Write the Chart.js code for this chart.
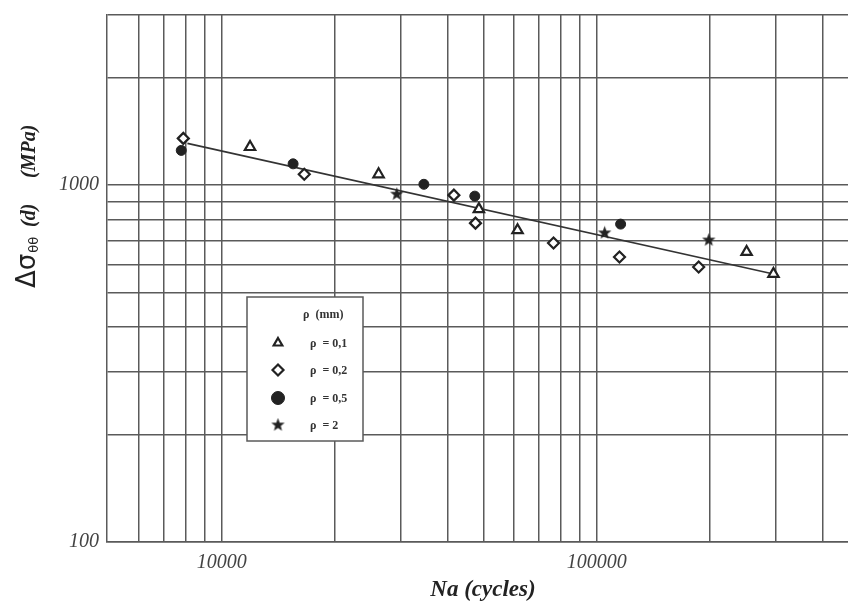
<!DOCTYPE html>
<html>
<head>
<meta charset="utf-8">
<script src="https://cdn.jsdelivr.net/npm/chart.js@4/dist/chart.umd.min.js"></script>
<style>
  html, body { margin: 0; padding: 0; background: #fff; overflow: hidden; width: 848px; height: 603px; }
  #wrap { position: relative; width: 894px; height: 603px; }
  canvas { display: block; }
</style>
</head>
<body>
<div id="wrap"><canvas id="c" width="894" height="603"></canvas></div>
<script>
// Crack-initiation life Na (cycles) vs. local stress range Δσθθ(d) (MPa), by notch radius ρ
const rho01N = [11900, 26200, 48500, 61500, 251000, 296000];
const rho01S = [1280, 1073, 857, 748, 650, 564];

const rho02N = [7900, 16600, 41600, 47500, 76700, 115000, 187000];
const rho02S = [1353, 1073, 938, 783, 689, 629, 590];

const rho05N = [7800, 15500, 34600, 47300, 115800];
const rho05S = [1252, 1148, 1006, 932, 778];

const rho2N = [29300, 105000, 199000];
const rho2S = [944, 735, 702];

// fitted trend line end points
const fitN = [8100, 296000];
const fitS = [1310, 564];

const legendTitle = 'ρ  (mm)';
const seriesLabels = ['ρ  = 0,1', 'ρ  = 0,2', 'ρ  = 0,5', 'ρ  = 2'];

// grid lines (the left frame edge stands for 5000) and labelled ticks
const xGrid = [6000, 7000, 8000, 9000, 10000, 20000, 30000, 40000, 50000, 60000, 70000, 80000, 90000, 100000, 200000, 300000, 400000, 500000];
const xLabelled = [10000, 100000];
const yGrid = [100, 200, 300, 400, 500, 600, 700, 800, 900, 1000, 2000, 3000];
const yLabelled = [100, 1000];

const pairs = (xs, ys) => xs.map((x, i) => ({ x: x, y: ys[i] }));

// filled five-point star used as a marker
function makeStar(size, outer, inner) {
  const cv = document.createElement('canvas');
  cv.width = size; cv.height = size;
  const g = cv.getContext('2d');
  const c = size / 2;
  g.beginPath();
  for (let i = 0; i < 10; i++) {
    const r = i % 2 === 0 ? outer : inner;
    const a = -Math.PI / 2 + i * Math.PI / 5;
    const px = c + r * Math.cos(a), py = c + r * Math.sin(a);
    if (i === 0) g.moveTo(px, py); else g.lineTo(px, py);
  }
  g.closePath();
  g.fillStyle = '#222';
  g.fill();
  return cv;
}
const starImg = makeStar(15, 7, 2.9);

const ink = '#222';
const gridColor = '#5a5a5a';

const markerStyles = [
  { pointStyle: 'triangle', pointRadius: 6, pointBorderWidth: 2.2, pointBackgroundColor: '#fff', pointBorderColor: ink },
  { pointStyle: 'rectRot', pointRadius: 5.5, pointBorderWidth: 2.2, pointBackgroundColor: '#fff', pointBorderColor: ink },
  { pointStyle: 'circle', pointRadius: 5, pointBorderWidth: 1, pointBackgroundColor: ink, pointBorderColor: ink },
  { pointStyle: starImg, pointRadius: 7, pointBorderWidth: 0, pointBackgroundColor: ink, pointBorderColor: ink }
];

const datasets = [
  Object.assign({ label: seriesLabels[0], data: pairs(rho01N, rho01S) }, markerStyles[0]),
  Object.assign({ label: seriesLabels[1], data: pairs(rho02N, rho02S) }, markerStyles[1]),
  Object.assign({ label: seriesLabels[2], data: pairs(rho05N, rho05S) }, markerStyles[2]),
  Object.assign({ label: seriesLabels[3], data: pairs(rho2N, rho2S) }, markerStyles[3]),
  {
    label: 'fit', data: pairs(fitN, fitS), showLine: true, pointRadius: 0,
    borderColor: '#333', borderWidth: 1.6, order: 10
  }
];

// boxed legend inside the plot
const boxLegend = {
  id: 'boxLegend',
  afterDatasetsDraw(chart) {
    const ctx = chart.ctx;
    const x0 = 247, y0 = 297, x1 = 363, y1 = 441;
    ctx.save();
    ctx.fillStyle = '#fff';
    ctx.fillRect(x0, y0, x1 - x0, y1 - y0);
    ctx.strokeStyle = gridColor;
    ctx.lineWidth = 1.5;
    ctx.strokeRect(x0, y0, x1 - x0, y1 - y0);
    ctx.fillStyle = '#333';
    ctx.font = "bold 12px 'Liberation Serif'";
    ctx.textBaseline = 'middle';
    ctx.textAlign = 'left';
    ctx.fillText(legendTitle, 303, 315);
    const rows = [343, 370, 398, 425];
    const legendMarkers = [
      { pointStyle: 'triangle', radius: 5, borderWidth: 2.2, fill: '#fff' },
      { pointStyle: 'rectRot', radius: 5.5, borderWidth: 2.2, fill: '#fff' },
      { pointStyle: 'circle', radius: 6.5, borderWidth: 1, fill: ink },
      { pointStyle: starImg, radius: 7, borderWidth: 0, fill: ink }
    ];
    rows.forEach((yy, i) => {
      const m = legendMarkers[i];
      ctx.fillStyle = m.fill;
      ctx.strokeStyle = ink;
      ctx.lineWidth = m.borderWidth;
      Chart.helpers.drawPoint(ctx, { pointStyle: m.pointStyle, radius: m.radius, rotation: 0, borderWidth: m.borderWidth }, 278, yy);
      ctx.fillStyle = '#333';
      ctx.font = "bold 12px 'Liberation Serif'";
      ctx.fillText(seriesLabels[i], 310, yy + 1);
    });
    ctx.restore();
  }
};

// axis titles
const axisTitles = {
  id: 'axisTitles',
  afterDraw(chart) {
    const ctx = chart.ctx;
    ctx.save();
    ctx.fillStyle = '#222';
    ctx.textBaseline = 'alphabetic';
    ctx.textAlign = 'center';
    ctx.font = "bold italic 23px 'Liberation Serif'";
    ctx.fillText('Na (cycles)', 483, 596);

    ctx.translate(35, 0);
    ctx.rotate(-Math.PI / 2);
    ctx.textAlign = 'left';
    ctx.font = "26px 'DejaVu Sans'";
    ctx.fillText('Δσ', -288, 0);
    const w = ctx.measureText('Δσ').width;
    ctx.font = "13px 'DejaVu Sans'";
    ctx.fillText('θθ', -288 + w + 1, 3);
    ctx.font = "bold italic 20px 'Liberation Serif'";
    ctx.fillText('(d)', -227, 0);
    ctx.fillText('(MPa)', -178, 0);
    ctx.restore();
  }
};

const tickFont = { family: "'Liberation Serif'", size: 20, style: 'italic' };

new Chart(document.getElementById('c'), {
  type: 'scatter',
  data: { datasets: datasets },
  options: {
    responsive: false,
    animation: false,
    devicePixelRatio: 1,
    layout: { padding: { top: 15, left: 0, right: 0, bottom: 0 } },
    plugins: { legend: { display: false }, tooltip: { enabled: false } },
    scales: {
      x: {
        type: 'logarithmic',
        min: 4944,
        max: 590000,
        afterBuildTicks: s => { s.ticks = xGrid.map(v => ({ value: v })); },
        afterFit: s => { s.height = 61; s.paddingLeft = 0; s.paddingRight = 0; },
        grid: { color: gridColor, lineWidth: 1.5, drawTicks: false },
        border: { color: gridColor, width: 1.5 },
        ticks: {
          autoSkip: false, maxRotation: 0, padding: 9, color: '#444', font: tickFont,
          callback: v => xLabelled.includes(v) ? String(v) : ''
        }
      },
      y: {
        type: 'logarithmic',
        min: 100,
        max: 3000,
        afterBuildTicks: s => { s.ticks = yGrid.map(v => ({ value: v })); },
        afterFit: s => { s.width = 107; s.paddingTop = 0; s.paddingBottom = 0; },
        grid: { color: gridColor, lineWidth: 1.5, drawTicks: false },
        border: { color: gridColor, width: 1.5 },
        ticks: {
          autoSkip: false, padding: 8, color: '#444', font: tickFont,
          callback: v => yLabelled.includes(v) ? String(v) : ''
        }
      }
    }
  },
  plugins: [boxLegend, axisTitles]
});
</script>
</body>
</html>
